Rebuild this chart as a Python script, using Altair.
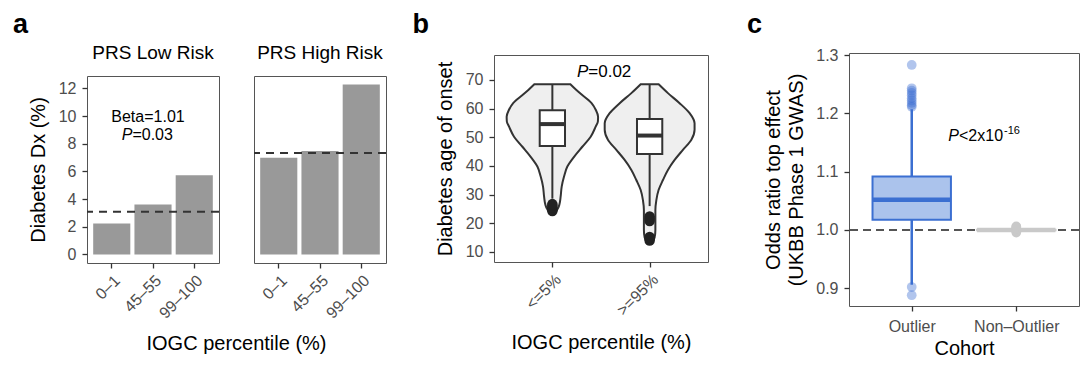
import altair as alt
import pandas as pd

FONT = "Liberation Sans"

# ---------------- panel a data ----------------
pct_bins = ["0–1", "45–55", "99–100"]
low_dx = [2.24, 3.61, 5.73]
high_dx = [6.99, 7.47, 12.29]
low_ref = [3.08]
high_ref = [7.33]
a_yticks = [0, 2, 4, 6, 8, 10, 12]
strip_titles = ["PRS Low Risk", "PRS High Risk"]

# ---------------- panel b data ----------------
b_groups = ["<=5%", ">=95%"]
b_pos = [1, 2]
v1_age = [68.5, 66.5, 65.0, 62.0, 59.5, 57.2, 55.5, 53.7, 50.2, 46.7, 43.2, 39.8, 36.3, 32.8, 29.3, 26.5, 24.8, 24.0, 23.6]
v1_hw = [0.185, 0.247, 0.298, 0.401, 0.447, 0.470, 0.468, 0.445, 0.394, 0.308, 0.223, 0.154, 0.120, 0.096, 0.085, 0.072, 0.051, 0.031, 0.0]
v2_age = [68.5, 65.4, 61.9, 58.4, 54.9, 52.6, 49.1, 45.6, 42.1, 38.6, 35.1, 31.6, 28.1, 24.6, 21.2, 17.7, 15.0, 14.0, 13.6]
v2_hw = [0.092, 0.188, 0.308, 0.411, 0.462, 0.462, 0.429, 0.342, 0.257, 0.188, 0.137, 0.092, 0.069, 0.059, 0.059, 0.059, 0.051, 0.031, 0.0]
b_q1 = [47.0, 44.2]
b_med = [54.6, 50.6]
b_q3 = [59.4, 56.4]
b_wlo = [28.6, 26.0]
b_whi = [68.5, 68.5]
b_out_grp = [1, 1, 1, 1, 1, 2, 2, 2, 2, 2, 2]
b_out_age = [24.3, 24.9, 25.5, 26.1, 26.7, 20.8, 21.6, 22.4, 14.0, 14.6, 15.2]
b_yticks = [10, 20, 30, 40, 50, 60, 70]

# ---------------- panel c data ----------------
cohorts = ["Outlier", "Non–Outlier"]
c_pos = [1, 2]
c_q1 = [1.0173, 0.9995]
c_med = [1.0516, 1.0]
c_q3 = [1.0918, 1.0005]
c_wlo = [0.906, 0.997]
c_whi = [1.207, 1.003]
c_out_grp = ["Outlier"] * 12 + ["Non–Outlier"] * 5
c_out_val = [1.283, 1.243, 1.239, 1.235, 1.231, 1.226, 1.222, 1.218, 1.214, 1.211, 0.902, 0.888,
             0.9955, 0.998, 1.002, 1.0045, 1.006]
c_yticks = [0.9, 1.0, 1.1, 1.2, 1.3]
c_ref = [1.0]

panel_letters = ["a", "b", "c"]

BLUE = "#3B6FD1"
BLUE_FILL = "#ABC3EC"
GRAY = "#C9C9C9"
NOFRAME = alt.ViewBackground(stroke="transparent", strokeOpacity=0)


def one_text(txt):
    return pd.DataFrame({"t": [txt]})


def text_mark(txt, x, y, size=16, align="left", style="normal", weight="normal"):
    return alt.Chart(one_text(txt)).mark_text(
        align=align, baseline="alphabetic", fontSize=size, fontStyle=style,
        fontWeight=weight, font=FONT, color="black"
    ).encode(x=alt.value(x), y=alt.value(y), text="t:N")


def header(letter, x, width, height):
    return text_mark(letter, x, 25, size=27, weight="bold").properties(
        width=width, height=height, view=NOFRAME)


# ---------------- panel a ----------------
a_yscale = alt.Scale(domain=[-0.62, 12.9], nice=False, zero=False)
a_xscale = alt.Scale(paddingInner=0.1, paddingOuter=0.15)
a_xaxis = alt.Axis(title=None, labelAngle=-45, labelAlign="right",
                   labelBaseline="top", labelPadding=4)


def bar_panel(vals, ref, show_y, extras):
    df = pd.DataFrame({"bin": pct_bins, "dx": vals})
    if show_y:
        yaxis = alt.Axis(title="Diabetes Dx (%)", values=a_yticks, titlePadding=10,
                         labelOverlap=False)
    else:
        yaxis = None
    bars = alt.Chart(df).mark_bar(color="#999999").encode(
        x=alt.X("bin:N", sort=pct_bins, scale=a_xscale, axis=a_xaxis),
        y=alt.Y("dx:Q", scale=a_yscale, axis=yaxis), y2=alt.datum(0))
    rule = alt.Chart(pd.DataFrame({"r": ref})).mark_rule(
        color="#333333", strokeDash=[8, 6], strokeWidth=2).encode(
        y=alt.Y("r:Q", scale=a_yscale, axis=yaxis))
    layers = [bars, rule] + extras
    return alt.layer(*layers).properties(width=132, height=187)


low = bar_panel(low_dx, low_ref, True, [
    text_mark(strip_titles[0], 66, -16.7, size=19, align="center"),
    text_mark("Beta=1.01", 61, 45.5, align="center"),
    text_mark("P", 45.4, 64.3, align="right", style="italic"),
    text_mark("=0.03", 45.4, 64.3, align="left"),
    text_mark("IOGC percentile (%)", 149.5, 274, size=20, align="center"),
])
high = bar_panel(high_dx, high_ref, False, [
    text_mark(strip_titles[1], 66, -16.7, size=19, align="center"),
])

panel_a = alt.hconcat(low, high, spacing=35, bounds="flush")

# ---------------- panel b ----------------
b_xscale = alt.Scale(domain=[0.4, 2.6], nice=False, zero=False)
b_yscale = alt.Scale(domain=[6.5, 78.7], nice=False, zero=False)
b_xaxis = alt.Axis(title="IOGC percentile (%)", values=b_pos, labelAngle=-45,
                   labelAlign="right", labelBaseline="top", labelPadding=4,
                   labelExpr="datum.value == 1 ? '<=5%' : '>=95%'", titlePadding=14)
b_yaxis = alt.Axis(title="Diabetes age of onset", values=b_yticks, titlePadding=10,
                   labelOverlap=False)

vrows = []
for g, ages, hws in [(1, v1_age, v1_hw), (2, v2_age, v2_hw)]:
    for a_, h_ in zip(ages, hws):
        vrows.append({"g": g, "age": a_, "lo": g - h_, "hi": g + h_})
vdf = pd.DataFrame(vrows).sort_values(["g", "age"])

violins = alt.Chart(vdf).mark_area(
    orient="horizontal", interpolate="monotone", fill="#EFEFEF", stroke="#333333",
    strokeWidth=2).encode(
    y=alt.Y("age:Q", scale=b_yscale, axis=b_yaxis),
    x=alt.X("lo:Q", scale=b_xscale, axis=b_xaxis),
    x2="hi:Q",
    detail="g:N")

bdf = pd.DataFrame({"g": b_pos, "q1": b_q1, "med": b_med, "q3": b_q3,
                    "wlo": b_wlo, "whi": b_whi,
                    "l": [p - 0.13 for p in b_pos], "r": [p + 0.13 for p in b_pos]})
b_whisk = alt.Chart(bdf).mark_rule(color="#333333", strokeWidth=2).encode(
    x=alt.X("g:Q", scale=b_xscale, axis=b_xaxis),
    y=alt.Y("wlo:Q", scale=b_yscale, axis=b_yaxis), y2="whi:Q")
b_box = alt.Chart(bdf).mark_rect(fill="white", stroke="#333333", strokeWidth=2).encode(
    x=alt.X("l:Q", scale=b_xscale, axis=b_xaxis), x2="r:Q",
    y=alt.Y("q1:Q", scale=b_yscale, axis=b_yaxis), y2="q3:Q")
b_median = alt.Chart(bdf).mark_rule(color="#333333", strokeWidth=4).encode(
    x=alt.X("l:Q", scale=b_xscale, axis=b_xaxis), x2="r:Q",
    y=alt.Y("med:Q", scale=b_yscale, axis=b_yaxis))
b_out = alt.Chart(pd.DataFrame({"g": b_out_grp, "age": b_out_age})).mark_circle(
    color="#222222", opacity=1, size=110).encode(
    x=alt.X("g:Q", scale=b_xscale, axis=b_xaxis),
    y=alt.Y("age:Q", scale=b_yscale, axis=b_yaxis))

panel_b = alt.layer(
    violins, b_whisk, b_box, b_median, b_out,
    text_mark("P", 94.3, 22, size=17, align="right", style="italic"),
    text_mark("=0.02", 94.3, 22, size=17, align="left"),
).properties(width=214, height=207)

# ---------------- panel c ----------------
c_xscale = alt.Scale(domain=[0.4, 2.6], nice=False, zero=False)
c_yscale = alt.Scale(domain=[0.8695, 1.3035], nice=False, zero=False)
c_color = alt.Scale(domain=cohorts, range=[BLUE, GRAY])
c_fill = alt.Scale(domain=cohorts, range=[BLUE_FILL, GRAY])
c_xaxis = alt.Axis(title="Cohort", values=c_pos, labelAngle=0, labelPadding=7,
                   labelExpr="datum.value == 1 ? 'Outlier' : 'Non–Outlier'", titlePadding=4)
c_yaxis = alt.Axis(title=["Odds ratio top effect", "(UKBB Phase 1 GWAS)"],
                   values=c_yticks, format=".1f", titlePadding=9, titleLineHeight=23,
                   labelOverlap=False)

cdf = pd.DataFrame({"coh": cohorts, "x": c_pos, "q1": c_q1, "med": c_med, "q3": c_q3,
                    "wlo": c_wlo, "whi": c_whi,
                    "l": [p - 0.375 for p in c_pos], "r": [p + 0.375 for p in c_pos]})

c_rule = alt.Chart(pd.DataFrame({"r": c_ref})).mark_rule(
    color="#555555", strokeDash=[8, 5], strokeWidth=2).encode(
    y=alt.Y("r:Q", scale=c_yscale, axis=c_yaxis))
c_whisk = alt.Chart(cdf).mark_rule(strokeWidth=2.5).encode(
    x=alt.X("x:Q", scale=c_xscale, axis=c_xaxis),
    y=alt.Y("wlo:Q", scale=c_yscale, axis=c_yaxis), y2="whi:Q",
    color=alt.Color("coh:N", scale=c_color, legend=None))
c_box = alt.Chart(cdf).mark_rect(strokeWidth=2).encode(
    x=alt.X("l:Q", scale=c_xscale, axis=c_xaxis), x2="r:Q",
    y=alt.Y("q1:Q", scale=c_yscale, axis=c_yaxis), y2="q3:Q",
    fill=alt.Fill("coh:N", scale=c_fill, legend=None),
    stroke=alt.Stroke("coh:N", scale=c_color, legend=None))
c_median = alt.Chart(cdf).mark_rule(strokeWidth=4.5).encode(
    x=alt.X("l:Q", scale=c_xscale, axis=c_xaxis), x2="r:Q",
    y=alt.Y("med:Q", scale=c_yscale, axis=c_yaxis),
    color=alt.Color("coh:N", scale=c_color, legend=None))
c_pts = alt.Chart(pd.DataFrame({"coh": c_out_grp, "v": c_out_val})).transform_lookup(
    lookup="coh", from_=alt.LookupData(cdf, "coh", ["x"])).mark_circle(
    size=95).encode(
    x=alt.X("x:Q", scale=c_xscale, axis=c_xaxis),
    y=alt.Y("v:Q", scale=c_yscale, axis=c_yaxis),
    color=alt.Color("coh:N", scale=c_color, legend=None),
    opacity=alt.condition("datum.coh == 'Outlier'", alt.value(0.4), alt.value(1.0)))

panel_c = alt.layer(
    c_rule, c_whisk, c_box, c_median, c_pts,
    text_mark("P", 110, 88, size=16, align="right", style="italic"),
    text_mark("<2x10", 110, 88, size=16, align="left"),
    text_mark("-16", 155, 81, size=11, align="left"),
).properties(width=230, height=253)

# ---------------- layout ----------------
col_a = alt.vconcat(header(panel_letters[0], -74, 132, 35), panel_a, spacing=0)
col_b = alt.vconcat(header(panel_letters[1], -81.5, 214, 46), panel_b, spacing=0)
col_c = alt.vconcat(header(panel_letters[2], -102, 230, 38), panel_c, spacing=0)

chart = alt.hconcat(
    alt.hconcat(col_a, col_b, spacing=24), col_c, spacing=38
).properties(
    padding={"left": 5, "top": 0, "right": 0, "bottom": 0}
).configure_view(
    stroke="#555555", strokeWidth=1
).configure_axis(
    labelFont=FONT, titleFont=FONT, labelFontSize=16, titleFontSize=20,
    titleFontWeight="normal", labelColor="#4d4d4d", titleColor="black",
    tickColor="#333333", tickSize=5, tickWidth=1.3, domain=False, grid=False,
    labelPadding=6
).configure_title(font=FONT, color="black")

chart.save("out.html", embed_options={"renderer": "svg", "actions": False})
